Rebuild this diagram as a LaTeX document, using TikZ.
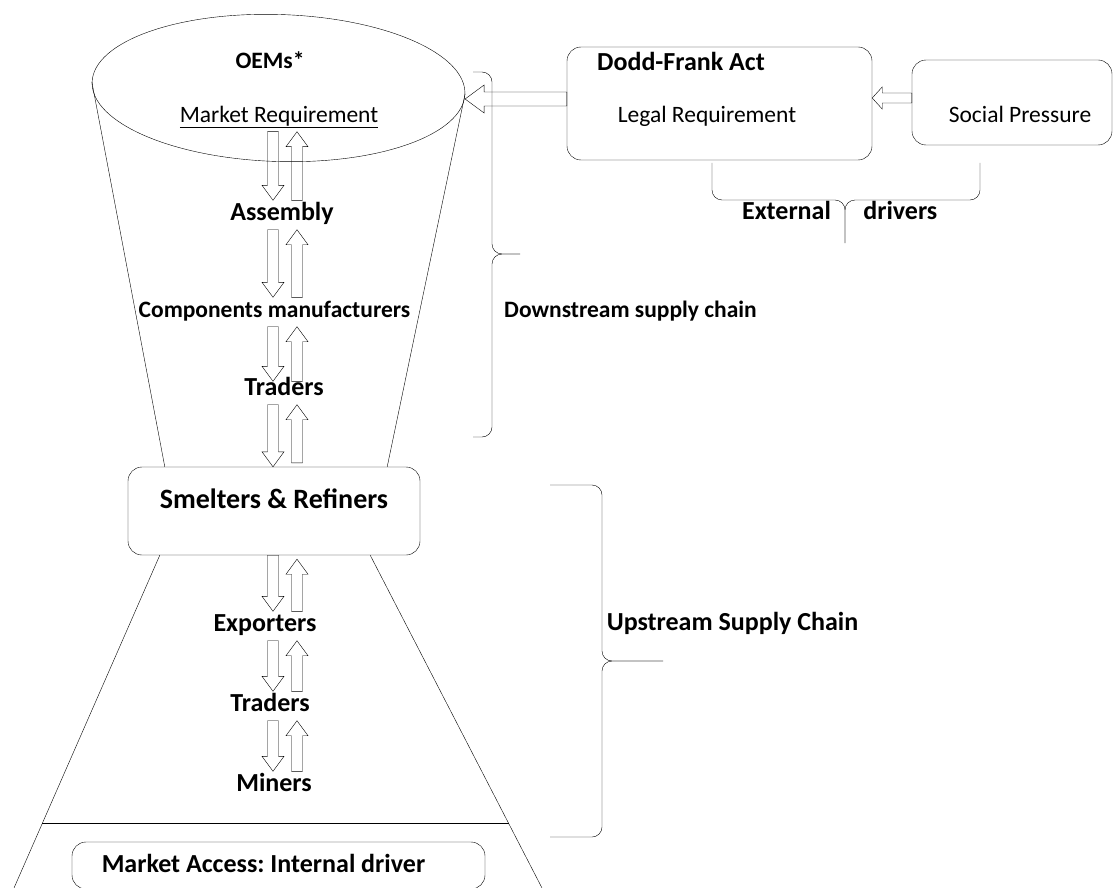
\documentclass[tikz,border=0pt]{standalone}
\usepackage{fontspec}
\setmainfont{Carlito}
\frenchspacing
\usetikzlibrary{calc,positioning,shapes.geometric}
\tikzset{line width=1.6pt}
\tikzset{lbl/.style={font=\fontsize{23.5}{28}\selectfont,text height=16pt,text depth=5pt,inner sep=4pt},
        sblbl/.style={lbl,font=\fontsize{23.5}{28}\selectfont\bfseries},
        blbl/.style={lbl,font=\fontsize{26}{30}\selectfont\bfseries},
        box/.style={draw,rounded corners=14pt},
        brc/.style={rounded corners=10pt},
        vblock/.style={to path={let \p1=(\tikztostart), \p2=(\tikztotarget) in
                ({\x1-5.5pt},\y1) -- ({\x1-5.5pt},{\y2+(#1)}) -- ({\x1-11pt},{\y2+(#1)}) -- (\x1,\y2)
                -- ({\x1+11pt},{\y2+(#1)}) -- ({\x1+5.5pt},{\y2+(#1)}) -- ({\x1+5.5pt},\y1) -- cycle}},
        dnarrow/.style={vblock=15pt},
        uparrow/.style={vblock=-15pt},
        hblock/.style args={#1/#2/#3}{to path={let \p1=(\tikztostart), \p2=(\tikztotarget) in
                (\x1,{\y1-#1}) -- ({\x2+#3},{\y1-#1}) -- ({\x2+#3},{\y1-#2}) -- (\x2,\y1)
                -- ({\x2+#3},{\y1+#2}) -- ({\x2+#3},{\y1+#1}) -- (\x1,{\y1+#1}) -- cycle}}}

\begin{document}
\begin{tikzpicture}[x=1pt,y=-1pt]
    \useasboundingbox (0,0) rectangle (1114,888);
    % funnel
    \node[draw,ellipse,rotate=-1.8,minimum width=373pt,minimum height=147pt,inner sep=0pt] (oem) at (278.5,88) {};
    \node[sblbl] (oemtxt) at (270,63) {OEMs*};
    \node[lbl] (mreq) at (279,117) {\underline{Market Requirement}};
    \node[blbl] (asm) at (282,215) {Assembly};
    \node[sblbl] (comp) at (274.5,312) {Components manufacturers};
    \node[blbl] (trda) at (284,390) {Traders};
    \node[box,minimum width=292pt,minimum height=88pt,font=\fontsize{28}{32}\selectfont\bfseries,
          text height=20pt,text depth=26pt] (smr) at (274,511) {Smelters \& Refiners};
    \node[blbl] (expo) at (265,626) {Exporters};
    \node[blbl] (trdb) at (270,706) {Traders};
    \node[blbl] (minr) at (274,786) {Miners};
    \node[box,minimum width=413pt,minimum height=47pt] (mkt) at (278.5,865.5) {};
    \node[blbl] (mkttxt) at (263.5,867) {Market Access: Internal driver};

    \draw (oem.west) -- ([xshift=37pt]smr.north west);
    \draw (oem.east) -- ([xshift=-33pt]smr.north east);
    \coordinate (bl) at (14,888);
    \coordinate (br) at (542,888);
    \draw ([xshift=32pt]smr.south west) coordinate (sl) -- (bl);
    \draw ([xshift=-50pt]smr.south east) coordinate (sr) -- (br);
    \draw ($(sl)!0.805!(bl)$) -- ($(sr)!0.805!(br)$);

    % flows up and down the chain
    \coordinate (dn) at (273,0);
    \coordinate (up) at (297,0);
    \path (dn |- mreq.south) edge[dnarrow] (dn |- asm.north)
          (up |- asm.north) edge[uparrow] (up |- mreq.south)
          (dn |- asm.south) edge[dnarrow] (dn |- comp.north)
          (up |- comp.north) edge[uparrow] (up |- asm.south)
          (dn |- comp.south) edge[dnarrow] ([yshift=-6pt]dn |- trda.north)
          ([yshift=-6pt]up |- trda.north) edge[uparrow] (up |- comp.south)
          (dn |- trda.south) edge[dnarrow] (dn |- smr.north)
          ([yshift=4pt]up |- smr.north) edge[uparrow] (up |- trda.south)
          (dn |- smr.south) edge[dnarrow] (dn |- expo.north)
          (up |- expo.north) edge[uparrow] ([yshift=-4pt]up |- smr.south)
          (dn |- expo.south) edge[dnarrow] (dn |- trdb.north)
          (up |- trdb.north) edge[uparrow] (up |- expo.south)
          (dn |- trdb.south) edge[dnarrow] (dn |- minr.north)
          (up |- minr.north) edge[uparrow] (up |- trdb.south);

    % external drivers
    \node[box,minimum width=305pt,minimum height=113pt] (dfa) at (719.5,103.5) {};
    \node[blbl] (dfat) at (681,65) {Dodd-Frank Act};
    \node[lbl] (legal) at (707,117) {Legal Requirement};
    \node[box,minimum width=200pt,minimum height=85pt] (soc) at (1012,102.5) {};
    \node[lbl] (soct) at (1020,117) {Social Pressure};
    \path ([yshift=4.5pt]dfa.west) edge[hblock=7pt/14pt/19pt] (oem.east)
          ([yshift=4.5pt]soc.west) edge[hblock=5pt/11pt/10pt] (dfa.east);

    \draw[brc] (712,163) -- (712,200) -- (845,200) -- (845,243);
    \draw[brc] (980,163) -- (980,200) -- (845,200) -- (845,243);
    \node[blbl] (ext) at (786.5,214) {External};
    \node[blbl,right=24pt of ext] (drv) {drivers};

    % braces
    \draw[brc] (473,72) -- (492,72) -- (492,254) -- (520,254);
    \draw[brc] (473,437) -- (492,437) -- (492,254) -- (520,254);
    \node[sblbl] (dwn) at (630.5,312) {Downstream supply chain};
    \draw[brc] (550,485) -- (602,485) -- (602,661) -- (663,661);
    \draw[brc] (550,837) -- (602,837) -- (602,661) -- (663,661);
    \node[blbl] (ups) at (732.5,625) {Upstream Supply Chain};
\end{tikzpicture}
\end{document}
